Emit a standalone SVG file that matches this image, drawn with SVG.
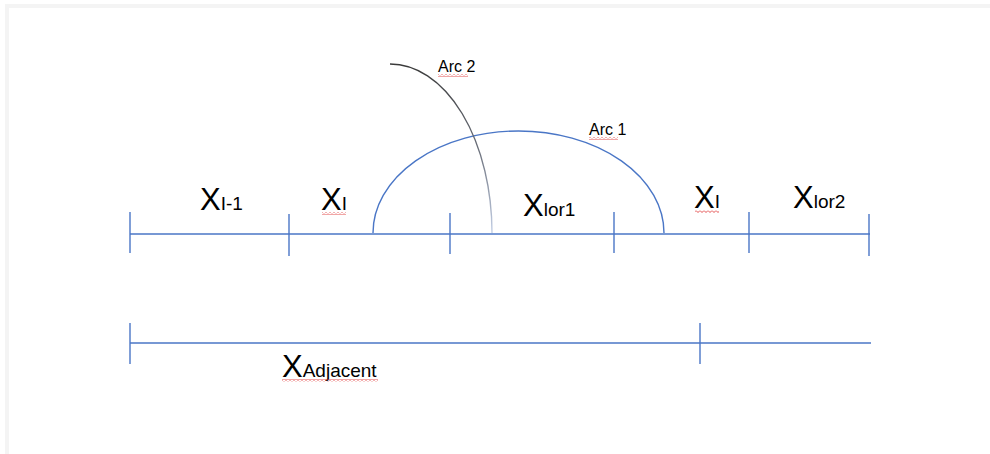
<svg xmlns="http://www.w3.org/2000/svg" width="990" height="454" viewBox="0 0 990 454">
<style>
.ln{stroke:#4a76c6;stroke-width:1.4;fill:none}
.big{font-family:"Liberation Sans",Arial,sans-serif;font-size:31px;fill:#000}
.sub{font-family:"Liberation Sans",Arial,sans-serif;font-size:19px;fill:#000}
.lbl{font-family:"Liberation Sans",Arial,sans-serif;font-size:16px;fill:#000}
.sq{fill:url(#sq)}
</style>
<defs>
<linearGradient id="g2" gradientUnits="userSpaceOnUse" x1="0" y1="64" x2="0" y2="233">
<stop offset="0" stop-color="#3a3a3a"/>
<stop offset="0.5" stop-color="#6a6f7a"/>
<stop offset="1" stop-color="#c4d0e6"/>
</linearGradient>
<pattern id="sq" width="4" height="3" patternUnits="userSpaceOnUse">
<path d="M0,0.5 L2,2.5 L4,0.5" stroke="#e03a3a" stroke-width="0.9" fill="none"/>
</pattern>
</defs>
<rect x="0" y="0" width="990" height="454" fill="#fff"/>
<rect x="5" y="4" width="985" height="4" fill="#f4f4f4"/>
<rect x="5" y="4" width="4" height="450" fill="#f4f4f4"/>

<g id="connectors">
<line class="ln" x1="130" y1="234" x2="870" y2="234"/>
<line class="ln" x1="130" y1="343" x2="871" y2="343"/>
<path id="arc1" class="ln" d="M373,233 A145.5,102 0 0 1 664,233"/>
<path id="arc2" d="M390,64 A102,169 0 0 1 492,233" stroke="url(#g2)" stroke-width="1.4" fill="none"/>
</g>

<g id="ticks">
<line class="ln" x1="130" y1="212" x2="130" y2="253"/>
<line class="ln" x1="289" y1="214" x2="289" y2="256"/>
<line class="ln" x1="450" y1="213" x2="450" y2="254"/>
<line class="ln" x1="614" y1="212" x2="614" y2="253"/>
<line class="ln" x1="749" y1="212" x2="749" y2="253"/>
<line class="ln" x1="869" y1="214" x2="869" y2="256"/>
<line class="ln" x1="130" y1="323" x2="130" y2="364"/>
<line class="ln" x1="700" y1="323" x2="700" y2="364"/>
</g>

<g id="label-xi-1"><text x="200" y="210"><tspan class="big">X</tspan><tspan class="sub">I-1</tspan></text></g>
<g id="label-xi-left"><text x="321" y="210"><tspan class="big">X</tspan><tspan class="sub">I</tspan></text>
<rect class="sq" x="322" y="212" width="24" height="3"/></g>
<g id="label-xlor1"><text x="523" y="216"><tspan class="big">X</tspan><tspan class="sub">lor1</tspan></text></g>
<g id="label-xi-right"><text x="694" y="208"><tspan class="big">X</tspan><tspan class="sub">I</tspan></text>
<rect class="sq" x="695" y="210" width="24" height="3"/></g>
<g id="label-xlor2"><text x="793" y="208"><tspan class="big">X</tspan><tspan class="sub">lor2</tspan></text></g>
<g id="label-xadjacent"><text x="282" y="377"><tspan class="big">X</tspan><tspan class="sub">Adjacent</tspan></text>
<rect class="sq" x="282" y="379" width="96" height="3"/></g>
<g id="label-arc2"><text class="lbl" x="438" y="72">Arc 2</text>
<rect class="sq" x="438" y="74" width="30" height="3"/></g>
<g id="label-arc1"><text class="lbl" x="589" y="135">Arc 1</text>
<rect class="sq" x="589" y="137" width="29" height="3"/></g>
</svg>
